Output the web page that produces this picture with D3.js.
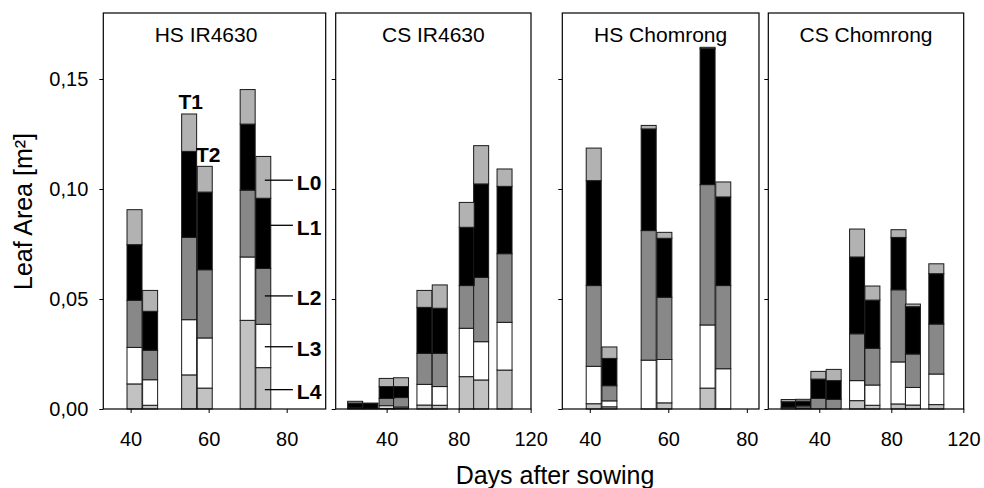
<!DOCTYPE html>
<html>
<head>
<meta charset="utf-8">
<script src="https://d3js.org/d3.v7.min.js"></script>
<style>
body { margin: 0; background: #fff; }
svg text { font-family: "Liberation Sans", Arial, sans-serif; fill: #000; }
</style>
</head>
<body>
<div id="chart"></div>
<script>
var layers = ["L4", "L3", "L2", "L1", "L0"];
var layerColors = ["#c2c2c2", "#ffffff", "#888888", "#000000", "#b2b2b2"];
var panelTitles = ["HS IR4630", "CS IR4630", "HS Chomrong", "CS Chomrong"];
var xTickValues = [[40, 60, 80], [40, 80, 120], [40, 60, 80], [40, 80, 120]];
var yTickValues = [0, 0.05, 0.10, 0.15];

// sampling days (T1 and T2 bars side by side)
var hsIrDays = [41, 45, 55, 59, 70, 74];
var csIrDays = [22.5, 31, 40, 48, 61, 69.5, 84.5, 92.5, 105.5];
var hsChDays = [41, 45, 55, 59, 70, 74];
var csChDays = [23, 31, 39.5, 48, 61, 69.5, 84, 92, 105];

// leaf area per layer [L4, L3, L2, L1, L0], m2
var hsIrArea = [
	[0.0114, 0.0166, 0.0214, 0.0253, 0.0159],
	[0.0017, 0.0116, 0.0134, 0.0177, 0.0095],
	[0.0155, 0.0251, 0.0374, 0.0391, 0.0170],
	[0.0095, 0.0228, 0.0310, 0.0353, 0.0117],
	[0.0403, 0.0288, 0.0304, 0.0300, 0.0157],
	[0.0188, 0.0197, 0.0254, 0.0319, 0.0190]
];
var csIrArea = [
	[0, 0, 0.0005, 0.0022, 0.0008],
	[0, 0, 0.0003, 0.0022, 0.0002],
	[0.0003, 0.0012, 0.0033, 0.0054, 0.0037],
	[0.0003, 0.0006, 0.0043, 0.0050, 0.0040],
	[0.0018, 0.0094, 0.0141, 0.0209, 0.0077],
	[0.0017, 0.0085, 0.0151, 0.0205, 0.0106],
	[0.0147, 0.0220, 0.0194, 0.0265, 0.0113],
	[0.0132, 0.0174, 0.0292, 0.0425, 0.0174],
	[0.0177, 0.0217, 0.0312, 0.0306, 0.0079]
];
var hsChArea = [
	[0.0024, 0.0170, 0.0367, 0.0477, 0.0148],
	[0.0010, 0.0027, 0.0069, 0.0124, 0.0052],
	[0, 0.0222, 0.0589, 0.0462, 0.0016],
	[0.0028, 0.0197, 0.0283, 0.0268, 0.0027],
	[0.0095, 0.0287, 0.0638, 0.0618, 0.0006],
	[0, 0.0183, 0.0378, 0.0403, 0.0068]
];
var csChArea = [
	[0, 0, 0.0008, 0.0025, 0.0010],
	[0, 0.0004, 0.0010, 0.0022, 0.0008],
	[0, 0, 0.0048, 0.0088, 0.0035],
	[0, 0, 0.0044, 0.0085, 0.0051],
	[0.0038, 0.0091, 0.0213, 0.0349, 0.0127],
	[0.0017, 0.0092, 0.0167, 0.0219, 0.0064],
	[0.0023, 0.0191, 0.0328, 0.0238, 0.0035],
	[0.0018, 0.0080, 0.0152, 0.0215, 0.0012],
	[0.0020, 0.0139, 0.0227, 0.0229, 0.0045]
];

// where the layer labels point to in the first panel
var layerLabelValues = [0.0088, 0.0283, 0.0514, 0.0835, 0.104];

var allDays = [hsIrDays, csIrDays, hsChDays, csChDays];
var allArea = [hsIrArea, csIrArea, hsChArea, csChArea];

var width = 984, height = 488;
var plotTop = 13, plotBottom = 409;
var barWidth = 15;

var panels = [
	{x0: 103.3, x1: 325.7, domain: [33, 90], titleX: 206},
	{x0: 335.7, x1: 531, domain: [11.7, 120.2]},
	{x0: 562.3, x1: 759, domain: [33, 83.1]},
	{x0: 768.3, x1: 963.7, domain: [11.7, 120.2]}
];

var yScale = d3.scaleLinear().domain([0, 0.18]).range([plotBottom, plotTop]);

var commaFormat = function(d) { return d3.format(".2f")(d).replace(".", ","); };

var svg = d3.select("#chart").append("svg")
	.attr("width", width)
	.attr("height", height);

function drawPanel(p, i){
	var xScale = d3.scaleLinear().domain(p.domain).range([p.x0, p.x1]);
	var days = allDays[i];
	var g = svg.append("g").attr("class", "panel" + i);

	var series = d3.stack().keys([0, 1, 2, 3, 4])(allArea[i]);

	series.forEach(function(s, k){
		g.selectAll(".seg" + k)
			.data(s.map(function(d, j){ return {y0: d[0], y1: d[1], day: days[j]}; })
				.filter(function(d){ return d.y1 - d.y0 > 0; }))
			.enter().append("rect")
			.attr("class", "seg" + k)
			.attr("x", function(d){ return xScale(d.day) - barWidth / 2; })
			.attr("y", function(d){ return yScale(d.y1); })
			.attr("width", barWidth)
			.attr("height", function(d){ return yScale(d.y0) - yScale(d.y1); })
			.attr("fill", layerColors[k])
			.attr("stroke", "#1a1a1a")
			.attr("stroke-width", 1);
	});

	// frame
	g.append("rect")
		.attr("x", p.x0)
		.attr("y", plotTop)
		.attr("width", p.x1 - p.x0)
		.attr("height", plotBottom - plotTop)
		.attr("fill", "none")
		.attr("stroke", "#000")
		.attr("stroke-width", 1.2);

	var xAxis = d3.axisBottom(xScale)
		.tickValues(xTickValues[i])
		.tickSize(4)
		.tickSizeOuter(0)
		.tickPadding(19);
	var gx = g.append("g")
		.attr("transform", "translate(0," + plotBottom + ")")
		.call(xAxis);
	gx.select(".domain").remove();
	gx.attr("font-size", 20).attr("font-family", null);

	var yAxis = d3.axisLeft(yScale)
		.tickValues(yTickValues)
		.tickSize(4)
		.tickSizeOuter(0)
		.tickPadding(11)
		.tickFormat(i == 0 ? commaFormat : "");
	var gy = g.append("g")
		.attr("transform", "translate(" + p.x0 + ",0)")
		.call(yAxis);
	gy.select(".domain").remove();
	gy.attr("font-size", 20).attr("font-family", null);

	g.append("text")
		.attr("x", p.titleX ? p.titleX : (p.x0 + p.x1) / 2)
		.attr("y", 41.5)
		.attr("text-anchor", "middle")
		.attr("font-size", 21)
		.text(panelTitles[i]);

	return xScale;
}

function barTop(i, j){
	return d3.sum(allArea[i][j]);
}

function drawLabels(xScale){
	var g = svg.append("g").attr("class", "labels");

	g.append("text")
		.attr("x", xScale(hsIrDays[2]) + 1.5)
		.attr("y", yScale(barTop(0, 2)) - 5)
		.attr("text-anchor", "middle")
		.attr("font-size", 21)
		.attr("font-weight", "bold")
		.text("T1");

	g.append("text")
		.attr("x", xScale(hsIrDays[3]) + 3.5)
		.attr("y", yScale(barTop(0, 3)) - 4.3)
		.attr("text-anchor", "middle")
		.attr("font-size", 21)
		.attr("font-weight", "bold")
		.text("T2");

	layerLabelValues.forEach(function(v, k){
		g.append("line")
			.attr("x1", xScale(74.4))
			.attr("x2", xScale(81.6))
			.attr("y1", yScale(v))
			.attr("y2", yScale(v))
			.attr("stroke", "#000")
			.attr("stroke-width", 1.3);
		g.append("text")
			.attr("x", xScale(82.6))
			.attr("y", yScale(v) + 9.5)
			.attr("font-size", 21)
			.attr("font-weight", "bold")
			.text(layers[k]);
	});
}

var firstScale;
panels.forEach(function(p, i){
	var s = drawPanel(p, i);
	if (i == 0) firstScale = s;
});
drawLabels(firstScale);

svg.append("text")
	.attr("x", 555)
	.attr("y", 484)
	.attr("text-anchor", "middle")
	.attr("font-size", 25)
	.text("Days after sowing");

svg.append("text")
	.attr("transform", "translate(32,211.5) rotate(-90)")
	.attr("text-anchor", "middle")
	.attr("font-size", 25)
	.text("Leaf Area [m²]");
</script>
</body>
</html>
